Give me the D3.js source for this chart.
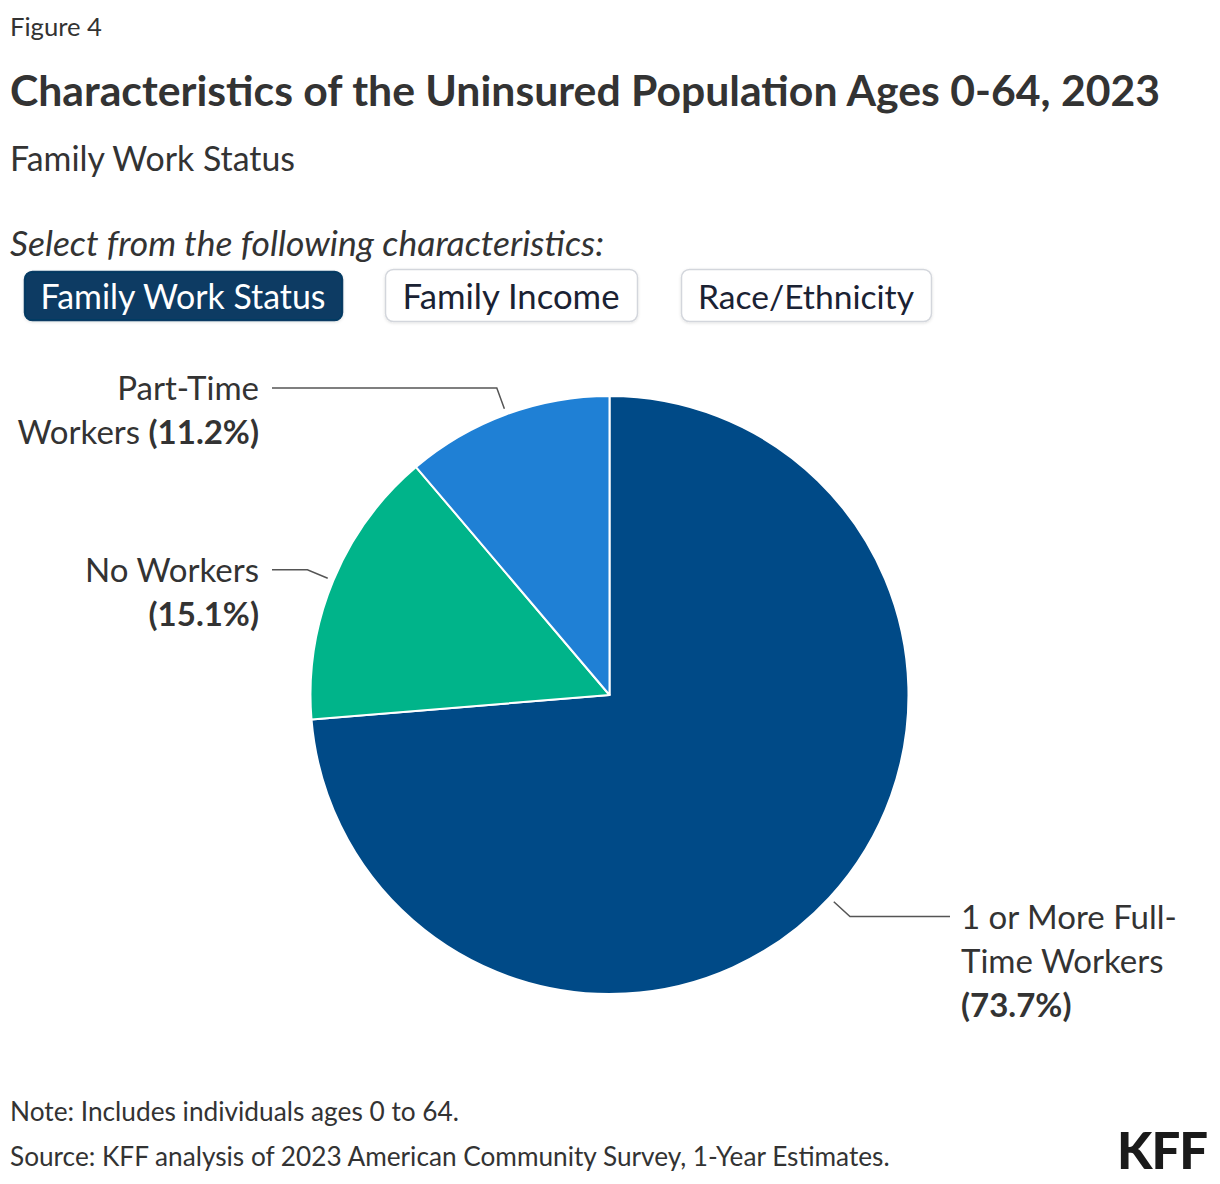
<!DOCTYPE html>
<html>
<head>
<meta charset="utf-8">
<script src="https://cdn.jsdelivr.net/npm/d3@7"></script>
<style>
  html, body { margin: 0; padding: 0; background: #fff; }
  svg { display: block; font-family: Lato, "Open Sans", sans-serif; }
</style>
</head>
<body>
<svg id="chart" width="1220" height="1184"></svg>
<script>
// ---------- data ----------
const categories = ["1 or More Full-Time Workers", "No Workers", "Part-Time Workers"];
const values = [73.7, 15.1, 11.2];
const labelLines = [["1 or More Full-", "Time Workers"], ["No Workers"], ["Part-Time", "Workers"]];
const sliceColors = ["#004a87", "#00b48a", "#1f80d5"];
const buttons = ["Family Work Status", "Family Income", "Race/Ethnicity"];

const titleText = "Characteristics of the Uninsured Population Ages 0-64, 2023";
const subtitleText = "Family Work Status";
const figureText = "Figure 4";
const promptText = "Select from the following characteristics:";
const noteText = "Note: Includes individuals ages 0 to 64.";
const sourceText = "Source: KFF analysis of 2023 American Community Survey, 1-Year Estimates.";

// ---------- helpers ----------
const svg = d3.select("#chart");
const TEXT = "#333333";

function fit(sel, target) {
  const fs = parseFloat(sel.attr("font-size"));
  const w = sel.node().getComputedTextLength();
  if (w > 0) sel.attr("font-size", (fs * target / w).toFixed(2));
  return sel;
}

// ---------- header ----------
fit(svg.append("text").attr("x", 10).attr("y", 36).attr("font-size", 22)
  .attr("fill", TEXT).text(figureText), 92);

fit(svg.append("text").attr("x", 10).attr("y", 106).attr("font-size", 38)
  .attr("font-weight", 700).attr("fill", TEXT).text(titleText), 1150);

fit(svg.append("text").attr("x", 10).attr("y", 171).attr("font-size", 30)
  .attr("fill", TEXT).text(subtitleText), 285);

fit(svg.append("text").attr("x", 10).attr("y", 256).attr("font-size", 30)
  .attr("font-style", "italic").attr("fill", TEXT).text(promptText), 594);

// ---------- buttons ----------
const btnBoxes = [
  {x: 24, y: 271, w: 318, h: 49, tw: 285},
  {x: 385, y: 269, w: 252, h: 52, tw: 217},
  {x: 681, y: 269, w: 250, h: 52, tw: 216}
];
const defs = svg.append("defs");
const flt = defs.append("filter").attr("id", "shadow").attr("x", "-10%").attr("y", "-20%")
  .attr("width", "120%").attr("height", "150%");
flt.append("feDropShadow").attr("dx", 0).attr("dy", 1).attr("stdDeviation", 1.5)
  .attr("flood-color", "#000").attr("flood-opacity", 0.12);

buttons.forEach((b, i) => {
  const box = btnBoxes[i];
  const active = i === 0;
  svg.append("rect")
    .attr("x", box.x + 0.5).attr("y", box.y + 0.5)
    .attr("width", box.w).attr("height", box.h).attr("rx", 8)
    .attr("fill", active ? "#073b64" : "#ffffff")
    .attr("stroke", active ? "#073b64" : "#d3d6dc")
    .attr("stroke-width", 1.5)
    .attr("filter", "url(#shadow)");
  const t = svg.append("text")
    .attr("x", box.x + box.w / 2).attr("y", 309)
    .attr("text-anchor", "middle").attr("font-size", 31)
    .attr("fill", active ? "#ffffff" : "#1a2233").text(b);
  fit(t, box.tw);
});

// ---------- pie ----------
const cx = 609.5, cy = 695, R = 299;
const g = svg.append("g").attr("transform", `translate(${cx},${cy})`);
const pie = d3.pie().sort(null).value(d => d)(values);
const arc = d3.arc().innerRadius(0).outerRadius(R);

g.selectAll("path.slice").data(pie).enter().append("path")
  .attr("class", "slice")
  .attr("d", arc)
  .attr("fill", (d, i) => sliceColors[i])
  .attr("stroke", "#ffffff").attr("stroke-width", 2).attr("stroke-linejoin", "round");

// ---------- labels with leader lines ----------
const r1 = R + 6, r2 = R + 28;
const labelGroup = svg.append("g");
const labelTexts = [];
pie.forEach((d, i) => {
  const a = (d.startAngle + d.endAngle) / 2;
  const p1 = [cx + r1 * Math.sin(a), cy - r1 * Math.cos(a)];
  const p2 = [cx + r2 * Math.sin(a), cy - r2 * Math.cos(a)];
  const right = Math.sin(a) > 0;
  const p3 = [right ? 950 : 272, p2[1]];
  labelGroup.append("path")
    .attr("d", d3.line()([p1, p2, p3]))
    .attr("fill", "none").attr("stroke", "#555").attr("stroke-width", 1.5);

  const tx = right ? 961 : 259;
  const anchor = right ? "start" : "end";
  const lines = labelLines[i].slice();
  const pct = "(" + values[i].toFixed(1) + "%)";
  const pctOwnLine = (i !== 2);
  const total = pctOwnLine ? lines.length + 1 : lines.length;
  const lh = 44;
  for (let k = 0; k < total; k++) {
    const t = labelGroup.append("text")
      .attr("x", tx).attr("y", p3[1] + 12 + k * lh)
      .attr("text-anchor", anchor).attr("font-size", 31).attr("fill", TEXT);
    if (k < lines.length) {
      t.append("tspan").text(lines[k]);
      if (!pctOwnLine && k === lines.length - 1) {
        t.append("tspan").text(" ");
        t.append("tspan").attr("font-weight", 700).text(pct);
      }
    } else {
      t.append("tspan").attr("font-weight", 700).text(pct);
    }
    labelTexts.push({t, i, k});
  }
});
// common label font size fitted to reference line widths
const refs = [
  {i: 0, k: 0, w: 211}, {i: 0, k: 1, w: 204},
  {i: 1, k: 0, w: 170}, {i: 2, k: 0, w: 144}, {i: 2, k: 1, w: 247}
];
let scaleSum = 0;
refs.forEach(r => {
  const o = labelTexts.find(l => l.i === r.i && l.k === r.k);
  scaleSum += r.w / o.t.node().getComputedTextLength();
});
const labelSize = 31 * scaleSum / refs.length;
labelTexts.forEach(l => l.t.attr("font-size", labelSize.toFixed(2)));

// ---------- footer ----------
fit(svg.append("text").attr("x", 10).attr("y", 1121).attr("font-size", 24)
  .attr("fill", TEXT).text(noteText), 449);
fit(svg.append("text").attr("x", 10).attr("y", 1166).attr("font-size", 24)
  .attr("fill", TEXT).text(sourceText), 880);

const kff = svg.append("text").attr("x", 1117).attr("y", 1169)
  .attr("font-size", 50).attr("font-weight", 900).attr("fill", "#1a1a1a")
  .attr("letter-spacing", -1).text("KFF");
fit(kff, 90);
</script>
</body>
</html>
